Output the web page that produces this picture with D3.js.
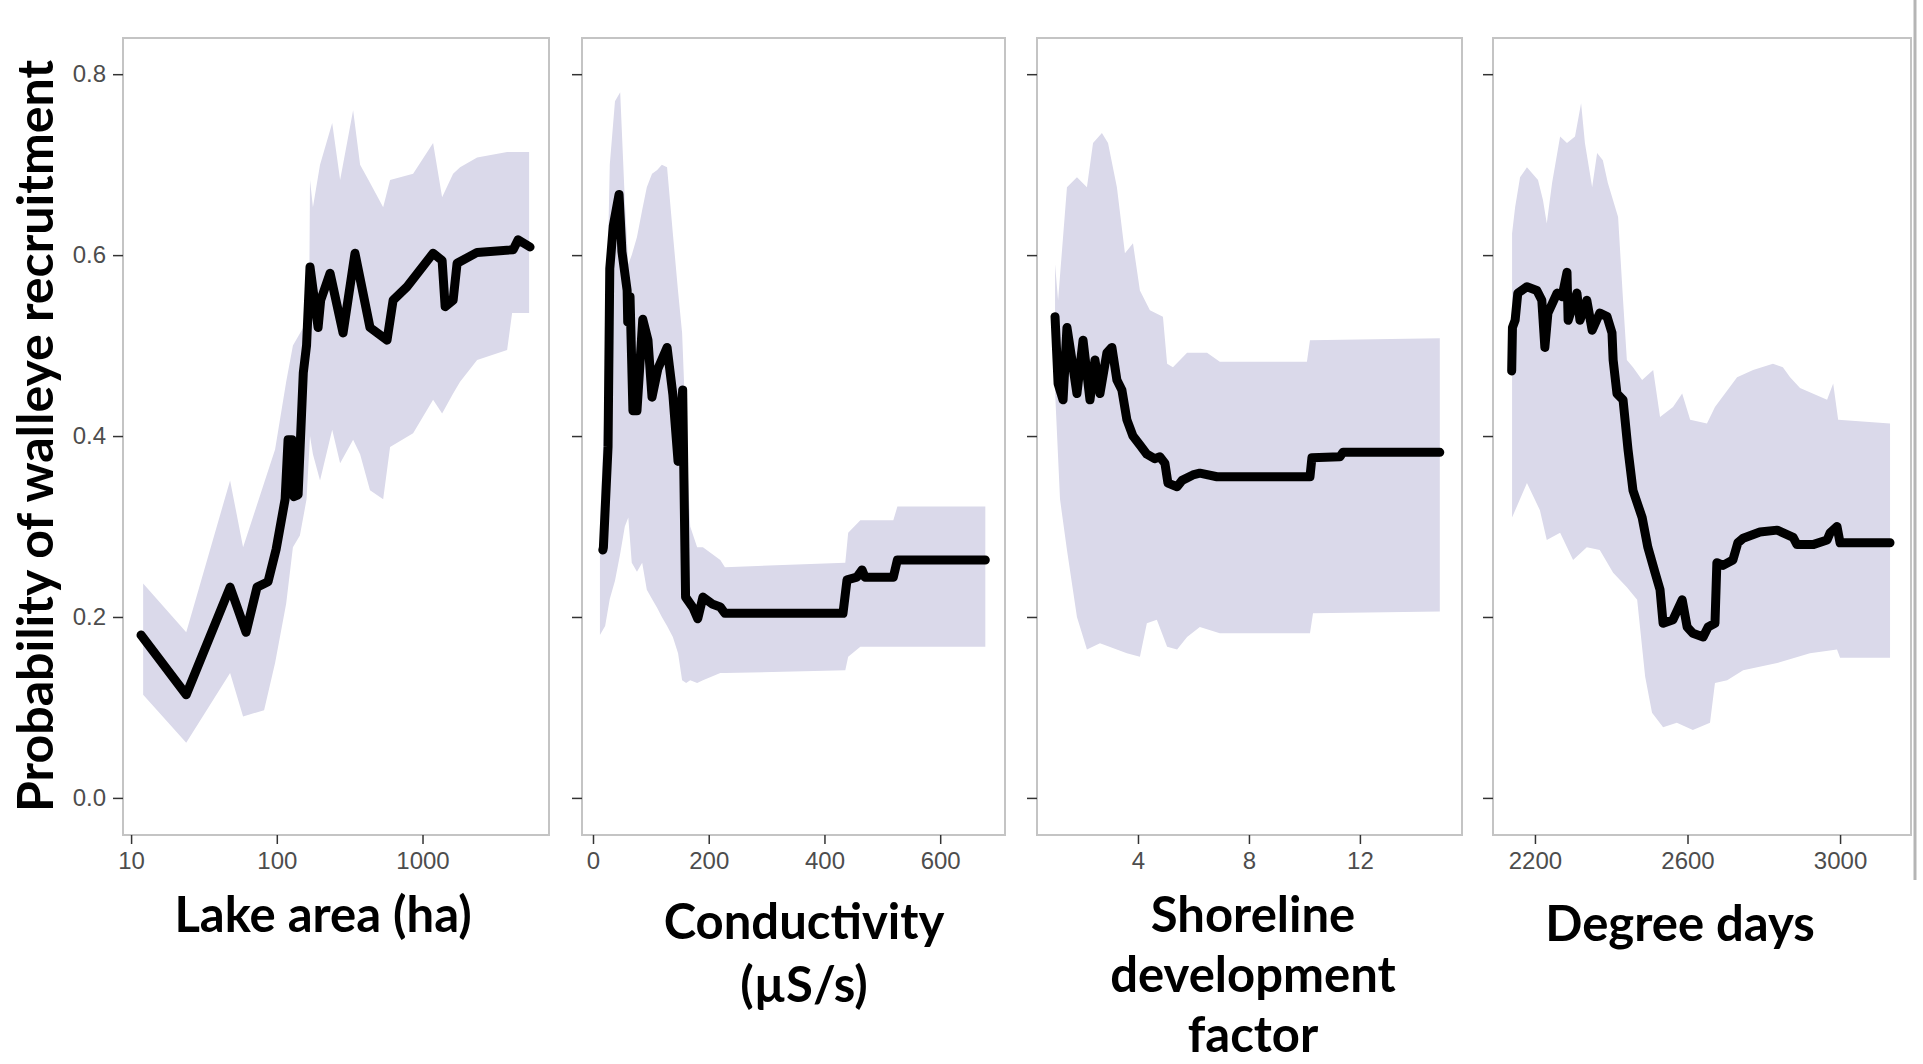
<!DOCTYPE html>
<html lang="en">
<head>
  <meta charset="UTF-8">
  <title>Probability of walleye recruitment</title>
  <script src="https://d3js.org/d3.v7.min.js"></script>
  <style>
    body { margin: 0; background: #fff; }
    .tick text {
      font-family: "Liberation Sans", Arial, sans-serif;
      font-size: 24px;
      fill: #4d4d4d;
    }
    .tick line { stroke: #333; stroke-width: 1.5px; }
    .title {
      font-family: Lato, "Open Sans", sans-serif;
      font-weight: bold;
      font-size: 49px;
      fill: #000;
      text-anchor: middle;
    }
  </style>
</head>
<body>
  <div id="chart"></div>
  <script>
    // ---- data ----
    const yTicks = [0, 0.2, 0.4, 0.6, 0.8];

    // Lake area (ha), log scale
    const areaTicks = [10, 100, 1000];
    const areaLine = [[11.7,0.18],[23.9,0.114],[47.8,0.233],[61.5,0.183],[73.2,0.233],[87.1,0.239],[99,0.275],[114,0.33],[119.5,0.396],[127,0.396],[131,0.333],[140,0.335],[152,0.47],[160,0.5],[169,0.587],[192,0.52],[200,0.55],[232,0.58],[285,0.514],[344,0.602],[436,0.52],[571,0.506],[628,0.55],[783,0.565],[1182,0.602],[1363,0.594],[1430,0.543],[1622,0.55],[1727,0.591],[2370,0.603],[4188,0.606],[4530,0.617],[5470,0.609]];
    const areaUpper = [[12.1,0.237],[23.9,0.183],[47.8,0.351],[58.7,0.277],[81.8,0.348],[97.3,0.385],[116,0.46],[129,0.5],[152,0.52],[167,0.56],[169,0.683],[177,0.653],[198,0.70],[240,0.746],[272,0.683],[334,0.76],[373,0.70],[436,0.68],[537,0.653],[599,0.683],[862,0.69],[1182,0.724],[1363,0.664],[1622,0.69],[1811,0.697],[2370,0.708],[3807,0.714],[5390,0.714]];
    const areaLower = [[12.1,0.114],[23.9,0.061],[47.8,0.138],[58.7,0.09],[81.8,0.097],[97.3,0.149],[116,0.215],[129,0.277],[144,0.29],[160,0.33],[169,0.40],[177,0.38],[198,0.351],[240,0.407],[272,0.37],[334,0.396],[373,0.38],[436,0.34],[537,0.33],[599,0.388],[862,0.403],[1182,0.44],[1363,0.425],[1622,0.447],[1811,0.46],[2370,0.484],[3807,0.495],[4120,0.536],[5390,0.536]];

    // Conductivity
    const condTicks = [0, 200, 400, 600];
    const condLine = [[17,0.274],[18,0.277],[26,0.388],[29,0.585],[35,0.632],[45,0.667],[50,0.604],[59,0.561],[60,0.526],[64,0.554],[69,0.428],[76,0.428],[86,0.529],[95,0.506],[102,0.443],[112,0.474],[128,0.498],[138,0.446],[147,0.372],[155,0.451],[160,0.222],[173,0.21],[181,0.198],[190,0.222],[207,0.214],[220,0.211],[228,0.204],[432,0.204],[439,0.241],[456,0.244],[465,0.252],[470,0.244],[519,0.244],[526,0.263],[678,0.263]];
    const condUpper = [[12,0.30],[21,0.45],[29,0.70],[38,0.77],[47,0.78],[55,0.66],[61,0.59],[67,0.60],[76,0.62],[85,0.65],[93,0.675],[102,0.69],[111,0.694],[119,0.70],[128,0.697],[138,0.624],[147,0.56],[154,0.514],[161,0.40],[168,0.30],[180,0.277],[190,0.277],[220,0.263],[228,0.255],[436,0.26],[441,0.293],[462,0.307],[519,0.307],[526,0.322],[678,0.322]];
    const condLower = [[12,0.18],[21,0.19],[29,0.22],[38,0.24],[47,0.27],[55,0.30],[61,0.31],[67,0.26],[76,0.25],[85,0.26],[93,0.23],[102,0.22],[111,0.21],[119,0.20],[128,0.19],[138,0.178],[147,0.16],[154,0.13],[161,0.127],[168,0.13],[180,0.127],[190,0.13],[220,0.138],[228,0.138],[436,0.141],[441,0.156],[462,0.167],[678,0.167]];

    // Shoreline development factor
    const shoreTicks = [4, 8, 12];
    const shoreLine = [[1.01,0.532],[1.12,0.458],[1.30,0.44],[1.44,0.52],[1.62,0.484],[1.80,0.447],[2.02,0.506],[2.27,0.44],[2.45,0.484],[2.63,0.447],[2.88,0.492],[3.06,0.498],[3.24,0.462],[3.42,0.451],[3.60,0.418],[3.82,0.40],[4.07,0.39],[4.32,0.38],[4.6,0.375],[4.79,0.377],[4.97,0.37],[5.08,0.348],[5.41,0.344],[5.59,0.351],[5.98,0.357],[6.23,0.359],[6.85,0.355],[10.2,0.355],[10.27,0.376],[11.28,0.377],[11.39,0.382],[14.88,0.382]];
    const shoreUpper = [[1.01,0.59],[1.12,0.55],[1.44,0.675],[1.80,0.686],[2.16,0.675],[2.38,0.724],[2.70,0.735],[2.92,0.724],[3.24,0.675],[3.53,0.602],[3.82,0.613],[4.07,0.561],[4.43,0.539],[4.90,0.532],[5.05,0.48],[5.26,0.476],[5.77,0.492],[6.49,0.492],[6.95,0.482],[10.09,0.482],[10.2,0.506],[14.88,0.508]];
    const shoreLower = [[1.01,0.45],[1.19,0.33],[1.44,0.274],[1.80,0.20],[2.16,0.164],[2.63,0.171],[3.60,0.16],[4.07,0.156],[4.32,0.193],[4.68,0.197],[5.05,0.167],[5.41,0.164],[5.77,0.178],[6.23,0.189],[6.95,0.182],[10.2,0.182],[10.31,0.204],[14.88,0.206]];

    // Degree days
    const ddTicks = [2200, 2600, 3000];
    const ddLine = [[2139,0.472],[2141,0.52],[2148,0.528],[2155,0.558],[2179,0.565],[2205,0.561],[2218,0.55],[2226,0.498],[2234,0.536],[2258,0.558],[2271,0.554],[2284,0.581],[2287,0.528],[2310,0.558],[2318,0.528],[2336,0.55],[2350,0.517],[2370,0.536],[2389,0.532],[2402,0.514],[2405,0.484],[2415,0.447],[2431,0.44],[2444,0.385],[2457,0.34],[2481,0.31],[2496,0.277],[2515,0.249],[2528,0.23],[2536,0.193],[2562,0.197],[2586,0.219],[2599,0.189],[2614,0.182],[2641,0.178],[2654,0.189],[2672,0.193],[2677,0.26],[2693,0.257],[2719,0.263],[2732,0.282],[2746,0.287],[2790,0.294],[2835,0.296],[2877,0.288],[2887,0.28],[2929,0.28],[2966,0.285],[2974,0.293],[2992,0.30],[3000,0.282],[3131,0.282]];
    const ddUpper = [[2140,0.624],[2148,0.653],[2161,0.686],[2179,0.697],[2208,0.683],[2221,0.661],[2231,0.635],[2245,0.68],[2266,0.731],[2284,0.724],[2305,0.731],[2321,0.768],[2331,0.724],[2350,0.675],[2363,0.713],[2378,0.705],[2391,0.68],[2418,0.642],[2431,0.55],[2441,0.484],[2457,0.476],[2481,0.462],[2510,0.473],[2528,0.421],[2562,0.432],[2586,0.447],[2607,0.418],[2651,0.414],[2672,0.432],[2730,0.465],[2772,0.473],[2824,0.48],[2850,0.476],[2869,0.465],[2895,0.453],[2966,0.44],[2982,0.458],[2995,0.418],[3131,0.414]];
    const ddLower = [[2140,0.31],[2179,0.348],[2213,0.318],[2231,0.285],[2266,0.293],[2300,0.263],[2336,0.277],[2370,0.274],[2405,0.249],[2441,0.233],[2468,0.219],[2489,0.134],[2507,0.094],[2536,0.078],[2572,0.083],[2614,0.075],[2659,0.083],[2672,0.127],[2704,0.13],[2746,0.141],[2835,0.149],[2921,0.16],[2992,0.164],[3000,0.155],[3131,0.155]];

    const yTitle = "Probability of walleye recruitment";
    const xTitles = [["Lake area (ha)"], ["Conductivity", "(\u00b5S/s)"], ["Shoreline", "development", "factor"], ["Degree days"]];

    // ---- layout ----
    const W = 1923, H = 1064;
    const plotTop = 38, plotBottom = 835;

    const svg = d3.select("#chart")
                  .append("svg")
                  .attr("width", W)
                  .attr("height", H);

    const y = d3.scaleLinear().domain([-0.041, 0.84]).range([plotBottom, plotTop]);

    const panels = [
      { x: d3.scaleLog().domain([8.8, 7380]).range([123, 549]), ticks: areaTicks,
        line: areaLine, upper: areaUpper, lower: areaLower, cx: 323, base: [932] },
      { x: d3.scaleLinear().domain([-19, 712]).range([582, 1005]), ticks: condTicks,
        line: condLine, upper: condUpper, lower: condLower, cx: 804, base: [939, 1002] },
      { x: d3.scaleLinear().domain([0.36, 15.68]).range([1037, 1462]), ticks: shoreTicks,
        line: shoreLine, upper: shoreUpper, lower: shoreLower, cx: 1253, base: [932, 992, 1052] },
      { x: d3.scaleLinear().domain([2090, 3186]).range([1493, 1911]), ticks: ddTicks,
        line: ddLine, upper: ddUpper, lower: ddLower, cx: 1680, base: [941] }
    ];

    panels.forEach((p, i) => {
      const [x0, x1] = p.x.range();
      const g = svg.append("g");

      g.append("rect")
       .attr("x", x0).attr("y", plotTop)
       .attr("width", x1 - x0).attr("height", plotBottom - plotTop)
       .attr("fill", "#fff");

      // confidence band: upper edge then lower edge back
      const pts = p.upper.concat(p.lower.slice().reverse());
      g.append("path")
       .attr("d", d3.line().x(d => p.x(d[0])).y(d => y(d[1]))(pts) + "Z")
       .attr("fill", "#dad9ea");

      g.append("path")
       .attr("d", d3.line().x(d => p.x(d[0])).y(d => y(d[1]))(p.line))
       .attr("fill", "none")
       .attr("stroke", "#000")
       .attr("stroke-width", 9)
       .attr("stroke-linejoin", "round")
       .attr("stroke-linecap", "round");

      g.append("rect")
       .attr("x", x0).attr("y", plotTop)
       .attr("width", x1 - x0).attr("height", plotBottom - plotTop)
       .attr("fill", "none")
       .attr("stroke", "#c4c4c4")
       .attr("stroke-width", 2);

      // axes
      g.append("g")
       .attr("transform", `translate(0,${plotBottom})`)
       .call(d3.axisBottom(p.x).tickValues(p.ticks).tickFormat(d3.format("d")).tickSize(9).tickPadding(8))
       .call(a => a.select(".domain").remove());

      g.append("g")
       .attr("transform", `translate(${x0},0)`)
       .call(d3.axisLeft(y).tickValues(yTicks)
               .tickFormat(i === 0 ? d3.format(".1f") : () => "")
               .tickSize(10).tickPadding(7))
       .call(a => a.select(".domain").remove());

      // axis title under the panel
      xTitles[i].forEach((t, k) => {
        svg.append("text")
           .attr("class", "title")
           .attr("x", p.cx)
           .attr("y", p.base[k])
           .text(t);
      });
    });

    svg.append("text")
       .attr("class", "title")
       .style("font-size", "50px")
       .attr("transform", "translate(53,436) rotate(-90)")
       .attr("textLength", 752)
       .attr("lengthAdjust", "spacingAndGlyphs")
       .text(yTitle);

    // edge of the pasted plot image
    svg.append("line")
       .attr("x1", 1915).attr("x2", 1915)
       .attr("y1", 0).attr("y2", 880)
       .attr("stroke", "#b5b5b5")
       .attr("stroke-width", 3);
  </script>
</body>
</html>
